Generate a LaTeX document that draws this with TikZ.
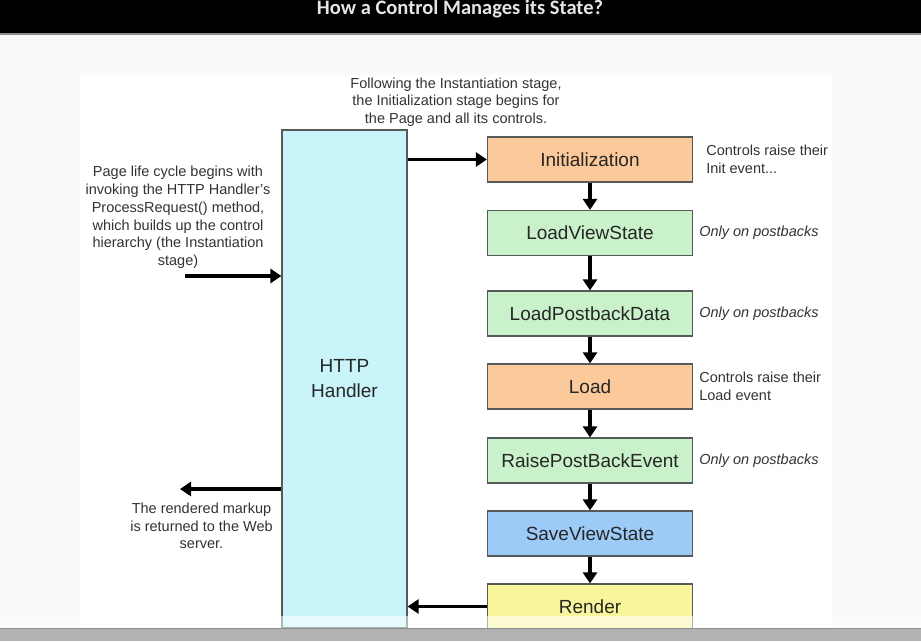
\documentclass[tikz,border=0pt]{standalone}
\usepackage{fontspec}
\setmainfont{Liberation Sans}
\newfontfamily\titlefont{Carlito}
\usetikzlibrary{arrows.meta,positioning}
\definecolor{stageorange}{HTML}{FBC99A}
\definecolor{stagegreen}{HTML}{C9F2CB}
\definecolor{stageblue}{HTML}{9CCBF8}
\definecolor{stageyellow}{HTML}{F9F59A}
\definecolor{handlercyan}{HTML}{C8F4FA}
\definecolor{boxline}{HTML}{555A5A}
\definecolor{labeltext}{HTML}{262626}
\definecolor{notetext}{HTML}{333333}
\tikzset{
  stage/.style={draw=boxline, line width=1.2pt, minimum width=205pt, minimum height=45pt,
    inner sep=0pt, font=\fontsize{19}{22}\selectfont, text=labeltext},
  flow/.style={line width=3.3pt, -{Triangle[length=11pt,width=14pt]}},
  note/.style={font=\fontsize{14.5}{17.6}\selectfont, text=notetext, align=center, inner sep=0pt},
  sidenote/.style={note, align=left, anchor=west},
}
\begin{document}
\begin{tikzpicture}[x=1pt,y=-1pt]
	\useasboundingbox (0,0) rectangle (921,641);
	% background and title bar
	\fill[black!2] (0,0) rectangle (921,641);
	\fill[white] (80,75) rectangle (832,628);
	\fill[black] (0,0) rectangle (921,33);
	\fill[black!45] (0,33) rectangle (921,35);
	\node[font=\titlefont\bfseries\fontsize{20.5}{24}\selectfont, text=white!90!black, anchor=base]
		(title) at (460,14) {How a Control Manages its State?};
	% handler
	\node[draw=boxline, fill=handlercyan, line width=1.2pt, minimum width=125pt, minimum height=498pt,
		inner sep=0pt, align=center, font=\fontsize{19}{25}\selectfont, text=labeltext]
		(handler) at (344.5,379) {HTTP\\Handler};
	% stages
	\foreach \name/\y/\col/\txt in {init/159.5/stageorange/Initialization,
		lvs/233/stagegreen/LoadViewState, lpd/313.5/stagegreen/LoadPostbackData,
		load/386.5/stageorange/Load, rpe/460.5/stagegreen/RaisePostBackEvent,
		svs/533.5/stageblue/SaveViewState, render/606.5/stageyellow/Render}
		\node[stage, fill=\col] (\name) at (590,\y) {\txt};
	\foreach \a/\b in {init/lvs, lvs/lpd, lpd/load, load/rpe, rpe/svs, svs/render}
		\draw[flow] (\a) -- (\b);
	% side notes
	\node[sidenote, right=13pt of init] (initnote) {Controls raise their\\Init event...};
	\node[sidenote, right=6pt of load] (loadnote) {Controls raise their\\Load event};
	\foreach \s in {lvs, lpd, rpe}
		\node[sidenote, font=\fontsize{14.5}{17.6}\selectfont\itshape, right=6pt of \s] (\s note) {Only on postbacks};
	% notes round the handler
	\node[note] (follownote) at (456,102) {Following the Instantiation stage,\\the Initialization stage begins for\\the Page and all its controls.};
	\node[note, font=\fontsize{14.5}{17.8}\selectfont] (beginnote) at (178,217.5) {Page life cycle begins with\\invoking the HTTP Handler's\\ProcessRequest() method,\\which builds up the control\\hierarchy (the Instantiation\\stage)};
	\node[note] (markupnote) at (201.5,526) {The rendered markup\\is returned to the Web\\server.};
	% in and out of the handler
	\coordinate (reqin) at (185,276);
	\coordinate (markupout) at (180,489);
	\draw[flow] (reqin) -- (reqin -| handler.west);
	\draw[flow] (markupout -| handler.west) -- (markupout);
	\draw[flow] (init.west -| handler.east) -- (init.west);
	\draw[flow] (render.west) -- (render.west -| handler.east);
	% screen edge
	\fill[white, opacity=0.55] (0,616) rectangle (921,628);
	\fill[black!30] (0,628) rectangle (921,641);
	\draw[black!45, line width=1pt] (0,628) -- (921,628);
\end{tikzpicture}
\end{document}
